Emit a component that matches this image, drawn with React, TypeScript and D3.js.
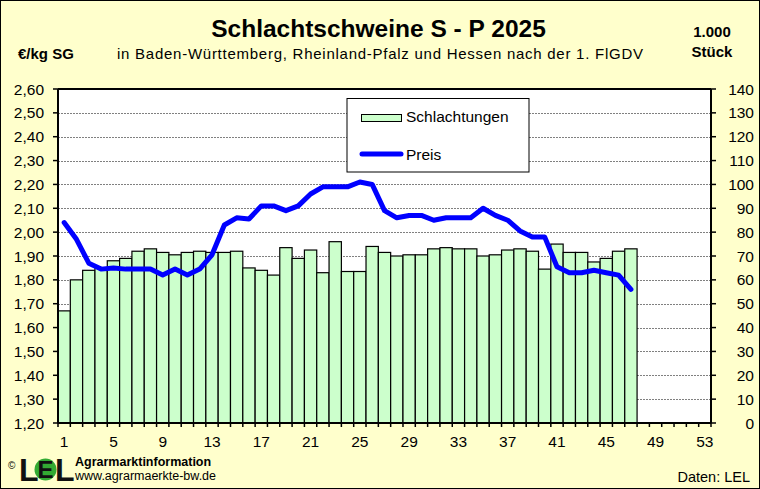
import React from 'react'
import * as d3 from 'd3'

const weeks = d3.range(1, 54)
const xTickLabels = [1, 5, 9, 13, 17, 21, 25, 29, 33, 37, 41, 45, 49, 53]
const priceTicks = [1.2, 1.3, 1.4, 1.5, 1.6, 1.7, 1.8, 1.9, 2.0, 2.1, 2.2, 2.3, 2.4, 2.5, 2.6]
const countTicks = [0, 10, 20, 30, 40, 50, 60, 70, 80, 90, 100, 110, 120, 130, 140]

// Schlachtungen in 1.000 Stück, KW 1-47
const schlachtungen = [
  47, 60, 64, 65, 68, 69, 72, 73, 71.5, 70.5, 71.5, 72, 71.5, 71.5, 72, 65,
  64, 62, 73.5, 69, 72.5, 63, 76, 63.5, 63.5, 74, 71.5, 70, 70.5, 70.5, 73,
  73.5, 73, 73, 70, 70.5, 72.5, 73, 72, 64.5, 75, 71.5, 71.5, 67.5, 69, 72, 73
]

// Preis in EUR/kg SG, KW 1-47
const preis = [
  2.04, 1.97, 1.87, 1.845, 1.85, 1.845, 1.845, 1.845, 1.82, 1.845, 1.82,
  1.845, 1.905, 2.03, 2.06, 2.055, 2.11, 2.11, 2.09, 2.11, 2.16, 2.19, 2.19,
  2.19, 2.21, 2.2, 2.09, 2.06, 2.07, 2.07, 2.05, 2.06, 2.06, 2.06, 2.1, 2.07,
  2.05, 2.005, 1.98, 1.98, 1.855, 1.83, 1.83, 1.84, 1.83, 1.82, 1.76
]

const font = 'Arial, "Liberation Sans", sans-serif'

const App = () => {
  const W = 760
  const H = 489
  const plot = { left: 58, right: 711, top: 89, bottom: 423 }

  //D3 mathy bits
  const x = d3
    .scaleBand<number>()
    .domain(weeks)
    .range([plot.left, plot.right])
    .padding(0)
  const yP = d3.scaleLinear().domain([1.2, 2.6]).range([plot.bottom, plot.top])
  const yC = d3.scaleLinear().domain([0, 140]).range([plot.bottom, plot.top])
  const fmt = (v: number) => d3.format('.2f')(v).replace('.', ',')

  const line = d3
    .line<number>()
    .x((_, i) => x(weeks[i])! + x.bandwidth() / 2)
    .y((d) => yP(d))

  const boundaries = weeks.map((w) => x(w)!).concat([plot.right])

  return (
    <svg
      width={W}
      height={H}
      style={{ position: 'absolute', left: 0, top: 0 }}
      fontFamily={font}
    >
      <rect x={0.5} y={0.5} width={W - 1} height={H - 1} fill="#FFFFCC" stroke="#000" />

      {/* titles */}
      <text x={378.5} y={37} textAnchor="middle" fontSize={24.5} fontWeight="bold">
        Schlachtschweine S - P 2025
      </text>
      <text x={117} y={59} fontSize={15} textLength={526} lengthAdjust="spacing">
        in Baden-Württemberg, Rheinland-Pfalz und Hessen nach der 1. FlGDV
      </text>
      <text x={18} y={59} fontSize={15} fontWeight="bold">€/kg SG</text>
      <text x={712} y={37} textAnchor="middle" fontSize={15} fontWeight="bold">1.000</text>
      <text x={712} y={57} textAnchor="middle" fontSize={15} fontWeight="bold">Stück</text>

      {/* plot area */}
      <rect
        x={plot.left}
        y={plot.top}
        width={plot.right - plot.left}
        height={plot.bottom - plot.top}
        fill="#fff"
      />
      {priceTicks.slice(1, -1).map((t) => (
        <line
          key={t}
          x1={plot.left}
          x2={plot.right}
          y1={Math.round(yP(t)) + 0.5}
          y2={Math.round(yP(t)) + 0.5}
          stroke="#808080"
          strokeDasharray="2,1"
        />
      ))}

      {/* bars */}
      {schlachtungen.map((v, i) => (
        <rect
          key={i}
          x={x(weeks[i])}
          y={yC(v)}
          width={x.bandwidth()}
          height={plot.bottom - yC(v)}
          fill="#CCFFCC"
          stroke="#000"
          strokeWidth={1.2}
        />
      ))}

      {/* price line */}
      <path
        d={line(preis) || ''}
        fill="none"
        stroke="#0000FF"
        strokeWidth={5}
        strokeLinejoin="round"
        strokeLinecap="round"
      />

      {/* frame */}
      <g stroke="#000" strokeWidth={2}>
        <line x1={plot.left} x2={plot.right} y1={plot.top} y2={plot.top} />
        <line x1={plot.left} x2={plot.right} y1={plot.bottom} y2={plot.bottom} />
        <line x1={plot.left} x2={plot.left} y1={plot.top} y2={plot.bottom} />
        <line x1={plot.right} x2={plot.right} y1={plot.top} y2={plot.bottom} />
      </g>

      {/* left axis */}
      {priceTicks.map((t) => (
        <g key={t}>
          <line x1={plot.left - 5} x2={plot.left} y1={yP(t)} y2={yP(t)} stroke="#000" strokeWidth={1.5} />
          <text x={44} y={yP(t) + 5.5} textAnchor="end" fontSize={15.5}>
            {fmt(t)}
          </text>
        </g>
      ))}

      {/* right axis */}
      {countTicks.map((t) => (
        <g key={t}>
          <line x1={plot.right} x2={plot.right + 5} y1={yC(t)} y2={yC(t)} stroke="#000" strokeWidth={1.5} />
          <text x={754} y={yC(t) + 5.5} textAnchor="end" fontSize={15.5}>
            {t}
          </text>
        </g>
      ))}

      {/* bottom axis */}
      {boundaries.map((b, i) => (
        <line key={i} x1={b} x2={b} y1={plot.bottom} y2={plot.bottom + 4} stroke="#000" strokeWidth={1.5} />
      ))}
      {xTickLabels.map((w) => (
        <text key={w} x={x(w)! + x.bandwidth() / 2} y={447} textAnchor="middle" fontSize={15.5}>
          {w}
        </text>
      ))}

      {/* legend */}
      <rect x={347} y={98.5} width={182} height={73.5} fill="#fff" stroke="#000" strokeWidth={1} />
      <rect x={361.5} y={114.5} width={40} height={7} fill="#CCFFCC" stroke="#000" strokeWidth={1} />
      <text x={406} y={122} fontSize={15.5}>Schlachtungen</text>
      <line x1={362} x2={401} y1={154} y2={154} stroke="#0000FF" strokeWidth={5} strokeLinecap="round" />
      <text x={406} y={160} fontSize={15.5}>Preis</text>

      {/* logo */}
      <text x={8} y={469} fontSize={10}>©</text>
      <text x={19} y={481} fontSize={32} fontWeight="900" fill="#111">L</text>
      <circle cx={45.5} cy={469.5} r={11} fill="#33AA33" />
      <text x={45.5} y={478} textAnchor="middle" fontSize={24} fontWeight="900" fill="#111">E</text>
      <text x={55} y={481} fontSize={32} fontWeight="900" fill="#111">L</text>
      <text x={75} y={466} fontSize={12.5} fontWeight="bold">Agrarmarktinformation</text>
      <text x={75} y={480} fontSize={12.5}>www.agrarmaerkte-bw.de</text>

      <text x={750} y={482} textAnchor="end" fontSize={14.5}>Daten: LEL</text>
    </svg>
  )
}

export default App
